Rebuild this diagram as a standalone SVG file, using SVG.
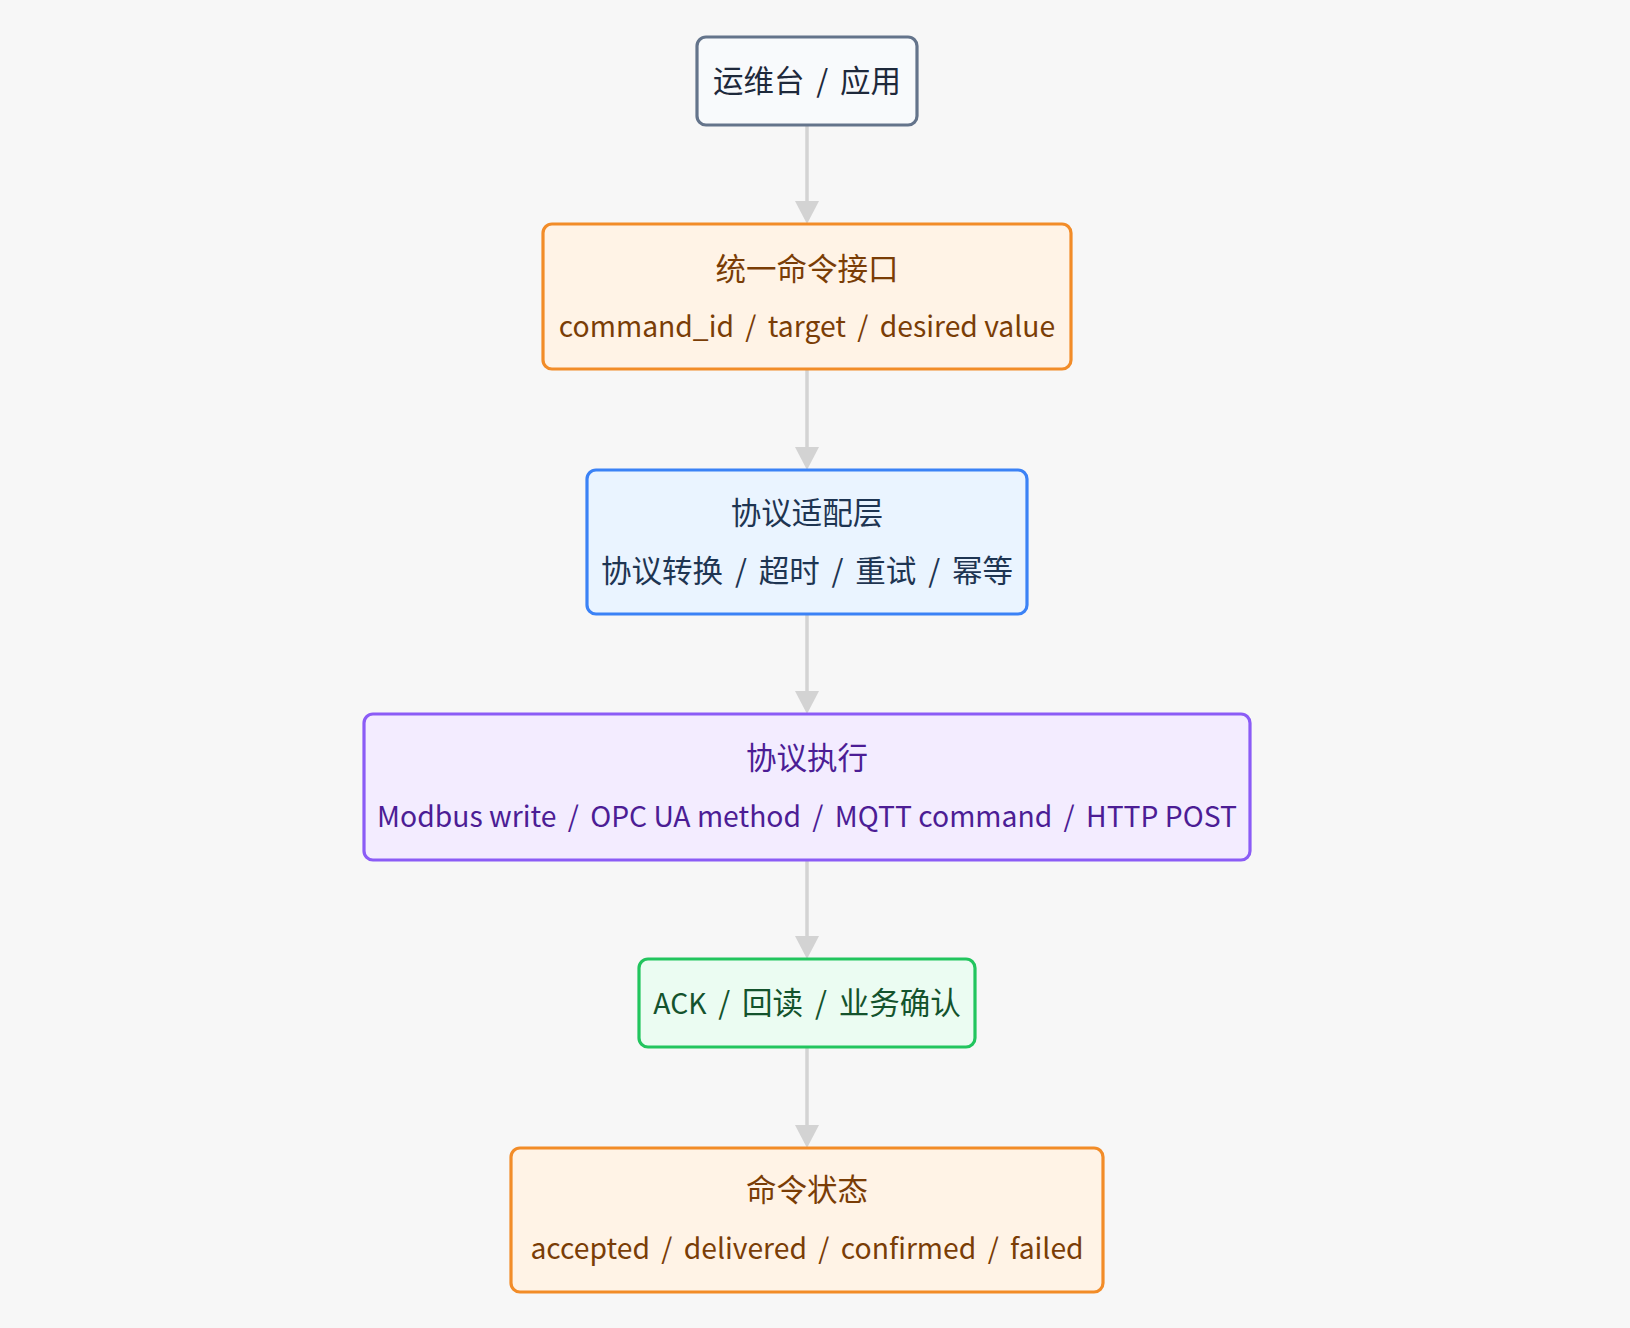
<svg xmlns="http://www.w3.org/2000/svg" width="1630" height="1328" viewBox="0 0 1630 1328">
<defs>
<style>
.t{font-family:"Noto Sans CJK SC","Noto Sans",sans-serif;font-size:30.5px;text-anchor:middle;dominant-baseline:central}
.l{font-size:28.3px}
.s{word-spacing:5px}
.box{stroke-width:3.2}
.slate rect{fill:#f8fafc;stroke:#64748b}.slate text{fill:#1e293b}
.orange rect{fill:#fff3e6;stroke:#f28c28}.orange text{fill:#7a3d06}
.blue rect{fill:#eaf4ff;stroke:#3b82f6}.blue text{fill:#1e3552}
.purple rect{fill:#f3ecff;stroke:#8b5cf6}.purple text{fill:#4c1d95}
.green rect{fill:#ebfcf2;stroke:#22c55e}.green text{fill:#14532d}
.edge{fill:none;stroke:#d3d3d3;stroke-width:3.5}
</style>
<marker id="arr" viewBox="0 0 23 24" refX="13" refY="12" markerWidth="23" markerHeight="24" markerUnits="userSpaceOnUse" orient="auto">
<path d="M0,0 L23,12 L0,24 z" fill="#d3d3d3"/>
</marker>
</defs>
<rect width="1630" height="1328" fill="#f7f7f7"/>
<g id="connectors">
<path class="edge" d="M807,125 V214" marker-end="url(#arr)"/>
<path class="edge" d="M807,369 V460" marker-end="url(#arr)"/>
<path class="edge" d="M807,614 V704" marker-end="url(#arr)"/>
<path class="edge" d="M807,860 V949" marker-end="url(#arr)"/>
<path class="edge" d="M807,1047 V1138" marker-end="url(#arr)"/>
</g>
<g id="n1" class="slate">
<rect class="box" x="697" y="37" width="220" height="88" rx="9"/>
<text class="t s" x="807" y="79">运维台 / 应用</text>
</g>
<g id="n2" class="orange">
<rect class="box" x="543" y="224" width="528" height="145" rx="9"/>
<text class="t" x="807" y="267">统一命令接口</text>
<text class="t l" x="807" y="324">command_id<tspan class="s"> / </tspan>target<tspan class="s"> / </tspan>desired value</text>
</g>
<g id="n3" class="blue">
<rect class="box" x="587" y="470" width="440" height="144" rx="9"/>
<text class="t" x="807" y="511">协议适配层</text>
<text class="t s" x="807" y="569">协议转换 / 超时 / 重试 / 幂等</text>
</g>
<g id="n4" class="purple">
<rect class="box" x="364" y="714" width="886" height="146" rx="9"/>
<text class="t" x="807" y="756">协议执行</text>
<text class="t l" x="807" y="814">Modbus write<tspan class="s"> / </tspan>OPC UA method<tspan class="s"> / </tspan>MQTT command<tspan class="s"> / </tspan>HTTP POST</text>
</g>
<g id="n5" class="green">
<rect class="box" x="639" y="959" width="336" height="88" rx="9"/>
<text class="t s" x="807" y="1001"><tspan class="l">ACK</tspan> / 回读 / 业务确认</text>
</g>
<g id="n6" class="orange">
<rect class="box" x="511" y="1148" width="592" height="144" rx="9"/>
<text class="t" x="807" y="1188">命令状态</text>
<text class="t l s" x="807" y="1246">accepted / delivered / confirmed / failed</text>
</g>
</svg>
